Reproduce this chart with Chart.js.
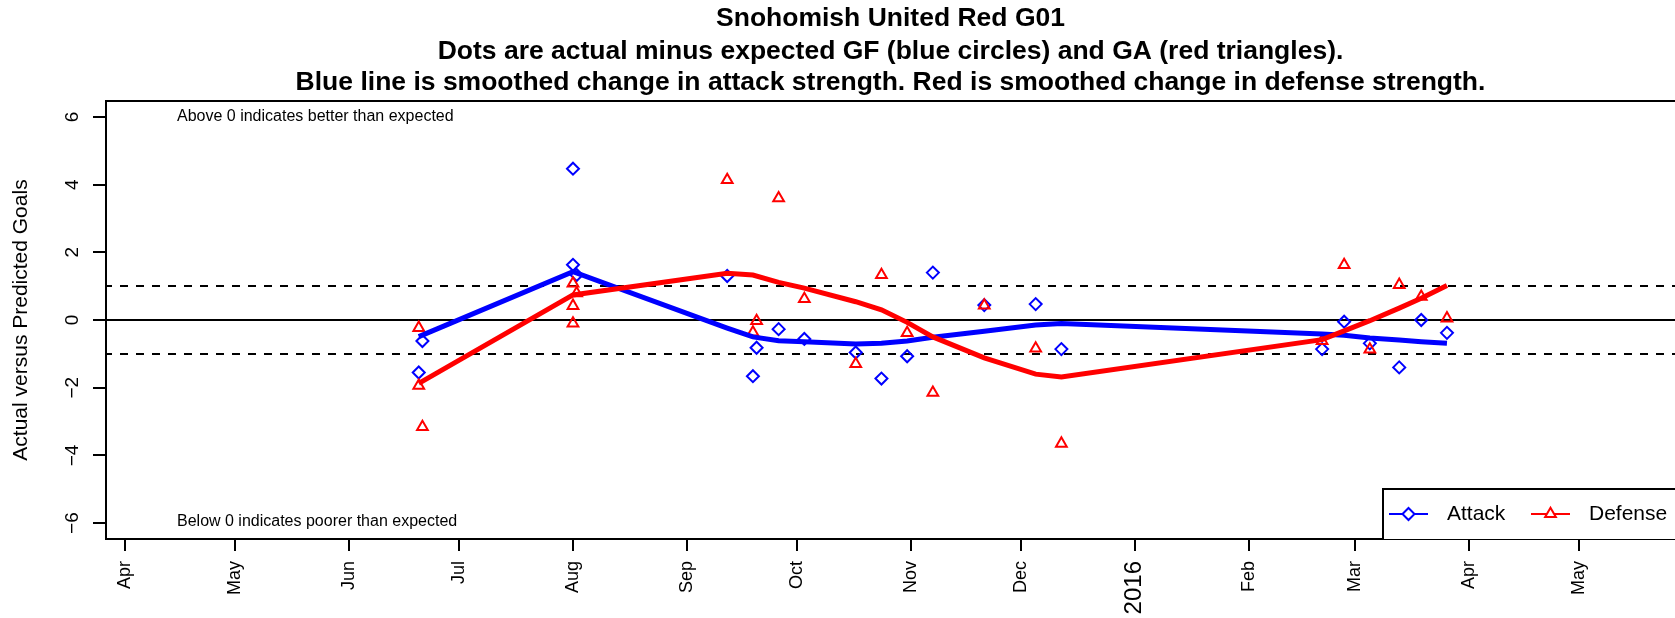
<!DOCTYPE html>
<html>
<head>
<meta charset="utf-8">
<title>Snohomish United Red G01</title>
<script src="https://cdn.jsdelivr.net/npm/chart.js@4.4.1/dist/chart.umd.min.js"></script>
<style>
  html, body { margin: 0; padding: 0; background: #fff; overflow: hidden; }
</style>
</head>
<body>
<canvas id="chart" width="1675" height="618"></canvas>
<script>
// Fuente parecida a la Helvetica de R
const FONT = '"Liberation Sans", Arial, Helvetica, sans-serif';

const titleLines = [
    'Snohomish United Red G01',
    'Dots are actual minus expected GF (blue circles) and GA (red triangles).',
    'Blue line is smoothed change in attack strength. Red is smoothed change in defense strength.'
];

// Lineas suavizadas (una por fecha de partido)
const smoothDates = ['2015-06-20', '2015-08-01', '2015-09-12', '2015-09-19', '2015-09-26', '2015-10-03',
    '2015-10-17', '2015-10-24', '2015-10-31', '2015-11-07', '2015-11-21', '2015-12-05', '2015-12-12',
    '2016-02-21', '2016-02-27', '2016-03-05', '2016-03-13', '2016-03-19', '2016-03-26'];
const attackSmooth = [-0.49, 1.43, -0.24, -0.50, -0.61, -0.64, -0.71, -0.69, -0.62, -0.51, -0.33, -0.15, -0.10,
    -0.41, -0.45, -0.53, -0.59, -0.64, -0.69];
const defenseSmooth = [-1.87, 0.74, 1.38, 1.33, 1.11, 0.94, 0.54, 0.30, -0.07, -0.50, -1.12, -1.60, -1.68,
    -0.58, -0.32, -0.02, 0.35, 0.64, 1.02];

// Puntos: goles reales menos esperados
const attackDates = ['2015-06-21', '2015-06-20', '2015-08-01', '2015-08-01', '2015-08-02', '2015-09-12',
    '2015-09-19', '2015-09-20', '2015-09-26', '2015-10-03', '2015-10-17', '2015-10-24', '2015-10-31',
    '2015-11-07', '2015-11-21', '2015-12-05', '2015-12-12', '2016-02-21', '2016-02-27', '2016-03-05',
    '2016-03-13', '2016-03-19', '2016-03-26'];
const attackValues = [-0.62, -1.55, 4.47, 1.63, 1.33, 1.30, -1.66, -0.82, -0.27, -0.56, -0.96, -1.73, -1.07,
    1.40, 0.44, 0.47, -0.86, -0.86, -0.05, -0.69, -1.40, 0.00, -0.38];

const defenseDates = ['2015-06-20', '2015-06-20', '2015-06-21', '2015-08-01', '2015-08-01', '2015-08-01',
    '2015-08-02', '2015-09-12', '2015-09-19', '2015-09-20', '2015-09-26', '2015-10-03', '2015-10-17',
    '2015-10-24', '2015-10-31', '2015-11-07', '2015-11-21', '2015-12-05', '2015-12-12', '2016-02-21',
    '2016-02-27', '2016-03-05', '2016-03-13', '2016-03-19', '2016-03-26'];
const defenseValues = [-0.23, -1.94, -3.16, 1.08, 0.42, -0.10, 0.79, 4.14, -0.37, -0.03, 3.60, 0.62, -1.30,
    1.33, -0.38, -2.15, 0.43, -0.84, -3.65, -0.62, 1.63, -0.87, 1.04, 0.69, 0.05];

// Ejes
const tickDates = ['2015-04-01', '2015-05-01', '2015-06-01', '2015-07-01', '2015-08-01', '2015-09-01',
    '2015-10-01', '2015-11-01', '2015-12-01', '2016-01-01', '2016-02-01', '2016-03-01', '2016-04-01',
    '2016-05-01'];
const tickLabels = ['Apr', 'May', 'Jun', 'Jul', 'Aug', 'Sep', 'Oct', 'Nov', 'Dec', '2016', 'Feb', 'Mar', 'Apr', 'May'];
const yTicks = [-6, -4, -2, 0, 2, 4, 6];
const refLines = [-1, 0, 1];

const START = Date.UTC(2015, 3, 1);
function dayNum(s) {
    return (Date.parse(s) - START) / 864e5;
}
function toPoints(dates, values) {
    return dates.map((d, i) => ({ x: dayNum(d), y: values[i] }));
}

const BLUE = '#0000ff';
const RED = '#ff0000';

// Lineas de referencia, marco, textos y leyenda
const decorPlugin = {
    id: 'decor',
    beforeDatasetsDraw(chart) {
        const { ctx, chartArea: a, scales: { y } } = chart;
        ctx.save();
        ctx.strokeStyle = '#000';
        ctx.lineWidth = 2;
        refLines.forEach(v => {
            const py = Math.round(y.getPixelForValue(v));
            ctx.setLineDash(v === 0 ? [] : [8, 8]);
            ctx.lineDashOffset = 2;
            ctx.beginPath();
            ctx.moveTo(a.left, py);
            ctx.lineTo(a.right, py);
            ctx.stroke();
        });
        ctx.restore();
    },
    afterDraw(chart) {
        const { ctx, chartArea: a, scales: { y } } = chart;
        ctx.save();
        ctx.fillStyle = '#000';
        ctx.strokeStyle = '#000';

        // borde superior del marco
        ctx.lineWidth = 2;
        ctx.beginPath();
        ctx.moveTo(a.left - 1, a.top);
        ctx.lineTo(a.right, a.top);
        ctx.stroke();

        // titulo
        ctx.font = 'bold 26.5px ' + FONT;
        ctx.textAlign = 'center';
        ctx.textBaseline = 'middle';
        const cx = (a.left + a.right) / 2;
        [19, 52, 83].forEach((ty, i) => ctx.fillText(titleLines[i], cx, ty));

        // etiquetas del eje y, giradas
        ctx.font = '19px ' + FONT;
        ctx.textBaseline = 'alphabetic';
        yTicks.forEach(v => {
            ctx.save();
            ctx.translate(78, y.getPixelForValue(v));
            ctx.rotate(-Math.PI / 2);
            ctx.fillText(String(v).replace('-', '\u2212'), 0, 0);
            ctx.restore();
        });
        ctx.font = '21px ' + FONT;
        ctx.save();
        ctx.translate(27, (a.top + a.bottom) / 2);
        ctx.rotate(-Math.PI / 2);
        ctx.fillText('Actual versus Predicted Goals', 0, 0);
        ctx.restore();

        // notas dentro del grafico
        ctx.font = '16px ' + FONT;
        ctx.textAlign = 'left';
        ctx.textBaseline = 'middle';
        ctx.fillText('Above 0 indicates better than expected', a.left + 71, y.getPixelForValue(6));
        ctx.fillText('Below 0 indicates poorer than expected', a.left + 71, y.getPixelForValue(-6) - 1);

        // leyenda
        const lx = a.right - 292, ly = a.bottom - 50, my = a.bottom - 25;
        ctx.fillStyle = '#fff';
        ctx.fillRect(lx, ly, a.right - lx, a.bottom - ly);
        ctx.lineWidth = 2;
        ctx.beginPath();
        ctx.moveTo(lx, a.bottom);
        ctx.lineTo(lx, ly);
        ctx.lineTo(a.right, ly);
        ctx.stroke();

        const items = [
            { label: 'Attack', color: BLUE, style: 'rectRot', radius: 6, x: lx + 6 },
            { label: 'Defense', color: RED, style: 'triangle', radius: 6.2, x: lx + 148 }
        ];
        items.forEach(it => {
            ctx.strokeStyle = it.color;
            ctx.lineWidth = 2;
            ctx.beginPath();
            ctx.moveTo(it.x, my);
            ctx.lineTo(it.x + 39, my);
            ctx.stroke();
            ctx.fillStyle = '#fff';
            Chart.helpers.drawPoint(ctx, {
                pointStyle: it.style, radius: it.radius, borderWidth: 2, rotation: 0
            }, it.x + 19.5, my);
            ctx.fillStyle = '#000';
            ctx.font = '21px ' + FONT;
            ctx.textAlign = 'left';
            ctx.textBaseline = 'middle';
            ctx.fillText(it.label, it.x + 58, my);
        });
        ctx.restore();
    }
};

new Chart(document.getElementById('chart'), {
    type: 'line',
    data: {
        datasets: [
            {
                label: 'Defense',
                data: toPoints(smoothDates, defenseSmooth),
                borderColor: RED,
                borderWidth: 5,
                pointRadius: 0,
                tension: 0,
                fill: false
            },
            {
                label: 'Attack',
                data: toPoints(smoothDates, attackSmooth),
                borderColor: BLUE,
                borderWidth: 5,
                pointRadius: 0,
                tension: 0,
                fill: false
            },
            {
                label: 'GA',
                data: toPoints(defenseDates, defenseValues),
                showLine: false,
                pointStyle: 'triangle',
                pointRadius: 6.2,
                pointBorderWidth: 2,
                borderColor: RED,
                backgroundColor: 'rgba(0,0,0,0)'
            },
            {
                label: 'GF',
                data: toPoints(attackDates, attackValues),
                showLine: false,
                pointStyle: 'rectRot',
                pointRadius: 6,
                pointBorderWidth: 2,
                borderColor: BLUE,
                backgroundColor: 'rgba(0,0,0,0)'
            }
        ]
    },
    options: {
        responsive: false,
        animation: false,
        layout: { autoPadding: false, padding: { top: 101, left: 0, right: 0, bottom: 0 } },
        plugins: {
            legend: { display: false },
            tooltip: { enabled: false },
            title: { display: false }
        },
        scales: {
            x: {
                type: 'linear',
                min: -5.17,
                max: 422.1,
                afterBuildTicks: s => { s.ticks = tickDates.map(d => ({ value: dayNum(d) })); },
                afterFit: s => {
                    s.height = 79;
                    s.paddingLeft = 0;
                    s.paddingRight = 0;
                },
                ticks: {
                    autoSkip: false,
                    minRotation: 90,
                    maxRotation: 90,
                    padding: 10,
                    color: '#000',
                    font: c => ({ family: FONT, size: tickLabels[c.index] === '2016' ? 24 : 18 }),
                    callback: (v, i) => tickLabels[i]
                },
                grid: { drawOnChartArea: false, tickLength: 12, color: '#000', lineWidth: 2 },
                border: { display: true, color: '#000', width: 2 }
            },
            y: {
                type: 'linear',
                min: -6.47,
                max: 6.47,
                afterBuildTicks: s => { s.ticks = yTicks.map(v => ({ value: v })); },
                afterFit: s => {
                    s.width = 106;
                    s.paddingTop = 0;
                    s.paddingBottom = 0;
                },
                ticks: { display: false },
                grid: { drawOnChartArea: false, tickLength: 13, color: '#000', lineWidth: 2 },
                border: { display: true, color: '#000', width: 2 }
            }
        }
    },
    plugins: [decorPlugin]
});
</script>
</body>
</html>
